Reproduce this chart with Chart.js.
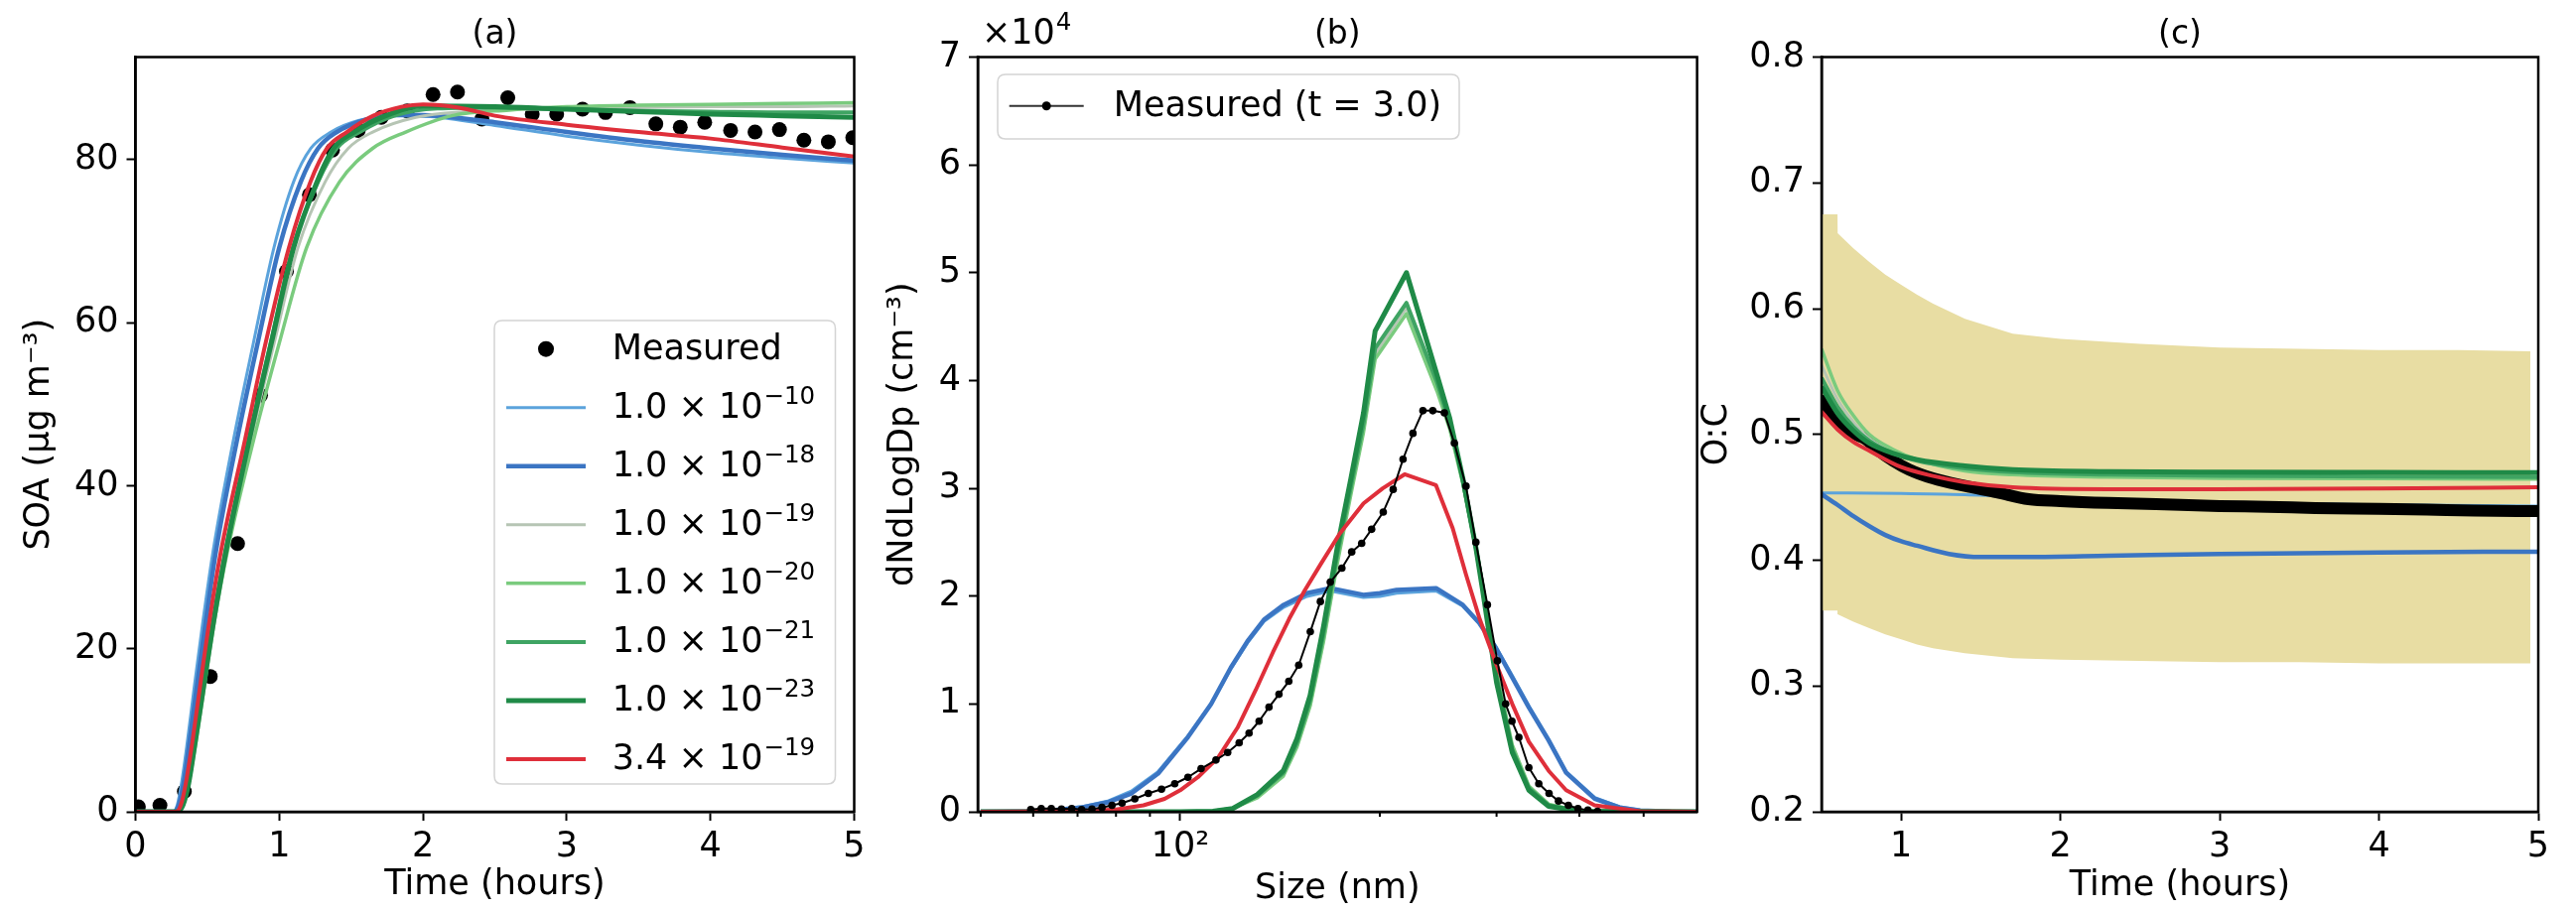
<!DOCTYPE html>
<html><head><meta charset="utf-8">
<script src="https://cdn.jsdelivr.net/npm/chart.js@4.4.1/dist/chart.umd.min.js"></script>
<style>
html,body{margin:0;padding:0;background:#fff;width:2595px;height:918px;overflow:hidden;}
canvas{position:absolute;top:0;}
</style></head><body>
<canvas id="ca" width="880" height="918" style="left:0px"></canvas>
<canvas id="cb" width="840" height="918" style="left:880px"></canvas>
<canvas id="cc" width="905" height="918" style="left:1690px"></canvas>
<script>
const FONT = 'DejaVu Sans';
Chart.defaults.font.family = FONT;
Chart.defaults.color = '#000';

// ---------------- shared series meta ----------------
const seriesLabels = ['1.0 × 10^−10','1.0 × 10^−18','1.0 × 10^−19','1.0 × 10^−20','1.0 × 10^−21','1.0 × 10^−23','3.4 × 10^−19'];
const seriesColors = ['#5ba3dc','#3b75c3','#b6c5b4','#7acb7e','#3fa463','#1f8a47','#df2f3a'];
const seriesWidths = [3, 4.5, 3, 3.5, 4, 5, 4];

// ---------------- panel (a): SOA vs time ----------------
const soaMeasuredT = [0.02,0.17,0.34,0.52,0.71,0.87,1.05,1.21,1.37,1.55,1.71,1.89,2.07,2.24,2.41,2.59,2.76,2.93,3.11,3.27,3.44,3.62,3.79,3.96,4.14,4.31,4.48,4.65,4.82,4.99];
const soaMeasuredV = [0.6,0.8,2.5,16.6,32.9,51.1,66.3,75.7,81.2,83.6,85.2,86.0,88.0,88.3,85.0,87.6,85.6,85.6,86.2,85.8,86.4,84.4,84.0,84.6,83.6,83.4,83.7,82.4,82.2,82.7];
const soa_1e10 = [[0,0],[0.26,0],[0.29,0.8],[0.32,3.5],[0.36,8.5],[0.41,15.5],[0.47,23.5],[0.54,32.0],[0.68,45.5],[0.82,57.5],[0.963,69.2],[1.10,77.3],[1.22,81.4],[1.36,83.4],[1.55,84.8],[1.8,85.4],[2.05,85.3],[2.5,84.2],[3.0,82.9],[3.5,81.8],[4.0,80.9],[4.5,80.2],[5.0,79.6]];
const soa_1e18 = [[0,0],[0.27,0],[0.30,0.8],[0.335,3.5],[0.375,8.5],[0.428,15.5],[0.49,23.5],[0.56,32.0],[0.705,45.5],[0.85,57.5],[1.0,69.2],[1.15,77.3],[1.27,81.4],[1.40,83.4],[1.6,84.9],[1.85,85.5],[2.1,85.4],[2.5,84.6],[3.0,83.4],[3.5,82.3],[4.0,81.4],[4.5,80.6],[5.0,79.9]];
const soa_1e19 = [[0,0],[0.29,0],[0.33,0.8],[0.37,3.5],[0.415,8.5],[0.475,15.5],[0.545,23.5],[0.635,32.0],[0.80,45.5],[0.965,57.5],[1.13,69.2],[1.32,77.3],[1.48,81.4],[1.65,83.4],[1.95,85.2],[2.3,85.9],[3.0,86.3],[3.5,86.4],[4.0,86.5],[4.5,86.5],[5.0,86.6]];
const soa_1e20 = [[0,0],[0.29,0],[0.33,0.8],[0.37,3.5],[0.42,8.5],[0.48,15.5],[0.55,23.5],[0.64,32.0],[0.82,45.5],[1.0,57.5],[1.19,69.2],[1.42,77.3],[1.65,81.4],[1.88,83.4],[2.2,85.4],[2.6,86.1],[3.0,86.5],[3.5,86.7],[4.0,86.8],[4.5,86.9],[5.0,87.0]];
const soa_1e21 = [[0,0],[0.29,0],[0.325,0.8],[0.365,3.5],[0.41,8.5],[0.47,15.5],[0.54,23.5],[0.625,32.0],[0.785,45.5],[0.94,57.5],[1.095,69.2],[1.27,77.3],[1.40,81.4],[1.56,83.4],[1.8,85.4],[2.1,86.3],[2.5,86.4],[3.0,86.2],[3.5,86.0],[4.0,85.9],[4.5,85.8],[5.0,85.8]];
const soa_1e23 = [[0,0],[0.29,0],[0.33,0.8],[0.37,3.5],[0.415,8.5],[0.475,15.5],[0.545,23.5],[0.63,32.0],[0.79,45.5],[0.945,57.5],[1.10,69.2],[1.263,77.3],[1.378,81.4],[1.52,83.4],[1.74,85.4],[2.0,86.6],[2.5,86.5],[3.0,86.2],[3.5,85.9],[4.0,85.6],[4.5,85.4],[5.0,85.2]];
const soa_fit = [[0,0],[0.28,0],[0.315,0.8],[0.35,3.5],[0.395,8.5],[0.45,15.5],[0.515,23.5],[0.595,32.0],[0.76,45.5],[0.905,57.5],[1.067,69.2],[1.217,77.3],[1.332,81.4],[1.47,83.4],[1.654,85.4],[1.85,86.5],[2.0,86.8],[2.25,86.4],[2.5,85.4],[3.0,84.3],[3.5,83.4],[4.0,82.6],[4.5,81.5],[5.0,80.4]];
const aXTicks = [0,1,2,3,4,5];
const aXTickLabels = ['0','1','2','3','4','5'];
const aYTicks = [0,20,40,60,80];
const aYTickLabels = ['0','20','40','60','80'];

// ---------------- panel (b): size distribution at t = 3.0 h (x10^4 cm^-3) ----------------
const psdMeasured = [[59.5,0.02],[61.7,0.03],[63.9,0.03],[66.2,0.025],[68.6,0.03],[71.0,0.02],[73.6,0.025],[76.2,0.04],[78.9,0.06],[81.7,0.08],[85.4,0.12],[89.5,0.17],[93.7,0.21],[98.1,0.26],[102.7,0.32],[107.5,0.40],[113.2,0.48],[117.9,0.55],[122.7,0.64],[127.0,0.73],[131.5,0.84],[136.1,0.97],[140.9,1.09],[145.8,1.21],[150.9,1.36],[157.1,1.67],[162.7,1.95],[168.4,2.13],[175.3,2.26],[181.4,2.41],[187.8,2.49],[194.4,2.62],[202.4,2.78],[209.5,2.99],[216.8,3.27],[224.4,3.51],[232.3,3.72],[240.4,3.72],[250.3,3.70],[259.1,3.42],[269.8,3.02],[279.2,2.50],[290.6,1.92],[300.8,1.40],[309.6,1.00],[316.5,0.84],[324.2,0.69],[335.6,0.41],[347.4,0.26],[360,0.17],[372,0.10],[385,0.06],[398,0.03],[412,0.015],[426,0.005]];
const psd_1e10 = [[50,0],[62,0.006],[71,0.045],[78,0.10],[84.4,0.19],[92.6,0.37],[102.7,0.70],[111.3,1.0],[119.2,1.33],[126.3,1.57],[133.8,1.77],[143.3,1.90],[155.3,2.0],[168.4,2.05],[188.9,1.99],[200,2.0],[211.9,2.03],[243.2,2.05],[266.7,1.91],[282.5,1.75],[299.2,1.53],[316.8,1.26],[335.6,0.98],[359.5,0.67],[382,0.37],[421.8,0.13],[460,0.045],[494,0.013],[550,0.002],[602,0]];
const psd_1e18 = [[50,0],[62,0.005],[71,0.04],[78,0.09],[84.4,0.17],[92.6,0.354],[102.7,0.692],[111.3,0.999],[119.2,1.337],[126.3,1.582],[133.8,1.782],[143.3,1.920],[155.3,2.028],[168.4,2.074],[188.9,2.012],[200,2.028],[211.9,2.058],[243.2,2.074],[266.7,1.920],[282.5,1.751],[299.2,1.521],[316.8,1.245],[335.6,0.968],[359.5,0.661],[382,0.362],[421.8,0.12],[460,0.04],[494,0.012],[550,0.002],[602,0]];
const psd_1e19 = [[50,0],[100,0],[112,0.005],[120,0.03],[130.7,0.14],[143,0.35],[150,0.62],[157,1.0],[164.5,1.6],[172.5,2.33],[181,2.98],[189,3.55],[196.8,4.25],[219.4,4.68],[244,3.94],[255,3.57],[266.7,3.06],[279.2,2.45],[285.6,2.11],[300,1.28],[316.8,0.6],[335.6,0.23],[359.5,0.065],[400,0.006],[602,0]];
const psd_1e20 = [[50,0],[100,0],[112,0.005],[120,0.03],[130.7,0.13],[143,0.33],[150,0.6],[157,0.98],[164.5,1.58],[172.5,2.3],[181,2.95],[189,3.52],[196.8,4.2],[219.4,4.62],[244,3.9],[255,3.55],[266.7,3.05],[279.2,2.45],[285.6,2.12],[300,1.3],[316.8,0.62],[335.6,0.24],[359.5,0.07],[400,0.007],[602,0]];
const psd_1e21 = [[50,0],[100,0],[112,0.005],[120,0.03],[130.7,0.15],[143,0.36],[150,0.64],[157,1.03],[164.5,1.65],[172.5,2.38],[181,3.02],[189,3.6],[196.8,4.30],[219.4,4.72],[244,3.98],[255,3.6],[266.7,3.08],[279.2,2.45],[285.6,2.1],[300,1.25],[316.8,0.58],[335.6,0.22],[359.5,0.06],[400,0.006],[602,0]];
const psd_1e23 = [[50,0],[100,0],[112,0.005],[120,0.03],[130.7,0.16],[143,0.38],[150,0.68],[157,1.08],[164.5,1.72],[172.5,2.45],[181,3.1],[189,3.7],[196.8,4.46],[219.4,5.0],[244,4.05],[255,3.65],[266.7,3.1],[279.2,2.45],[285.6,2.07],[300,1.2],[316.8,0.55],[335.6,0.2],[359.5,0.05],[400,0.005],[602,0]];
const psd_fit = [[50,0],[70,0.005],[80,0.02],[88,0.06],[94.7,0.12],[100,0.2],[106.3,0.32],[114,0.5],[122,0.78],[130,1.13],[138,1.48],[146,1.79],[154,2.05],[163,2.3],[174,2.58],[189,2.86],[202,3.0],[218,3.13],[243,3.03],[257.6,2.63],[269.8,2.2],[282.5,1.8],[299.2,1.38],[316.8,1.0],[335.6,0.65],[359.5,0.38],[382,0.2],[421.8,0.06],[494,0.005],[602,0]];
const bXTicks = [50,60,70,80,90,100,200,300,400,500,600];
const bXMajor = [100];
const bYTicks = [0,1,2,3,4,5,6,7];
const bYTickLabels = ['0','1','2','3','4','5','6','7'];

// ---------------- panel (c): O:C vs time ----------------
const ocBandT     = [0.5,0.6,0.601,0.7,0.8,0.9,1.0,1.1,1.2,1.4,1.7,2.0,2.5,3.0,3.5,4.0,4.5,4.95];
const ocBandUpper = [0.675,0.675,0.660,0.648,0.637,0.627,0.619,0.611,0.604,0.592,0.580,0.576,0.572,0.569,0.568,0.567,0.567,0.566];
const ocBandLower = [0.360,0.360,0.357,0.351,0.346,0.341,0.337,0.333,0.330,0.326,0.322,0.321,0.320,0.319,0.319,0.318,0.318,0.318];
const ocMeasured = [[0.5,0.527],[0.55,0.52],[0.6,0.512],[0.7,0.501],[0.78,0.496],[0.85,0.488],[0.95,0.479],[1.05,0.472],[1.2,0.465],[1.4,0.459],[1.6,0.454],[1.8,0.4485],[2.0,0.447],[2.3,0.4455],[2.6,0.4445],[3.0,0.443],[3.3,0.4425],[3.6,0.4415],[4.0,0.4408],[4.3,0.4402],[4.6,0.4395],[5.0,0.439]];
const oc_1e10 = [[0.5,0.4535],[1.0,0.453],[1.4,0.452],[2.0,0.449],[3.0,0.446],[4.0,0.444],[5.0,0.443]];
const oc_1e18 = [[0.5,0.4525],[0.6,0.444],[0.7,0.435],[0.8,0.427],[0.9,0.42],[1.0,0.415],[1.1,0.4115],[1.3,0.405],[1.5,0.4025],[1.8,0.4025],[2.3,0.4035],[3.0,0.405],[4.0,0.4062],[5.0,0.4068]];
const oc_1e19 = [[0.5,0.555],[0.6,0.528],[0.7,0.51],[0.8,0.497],[0.95,0.486],[1.1,0.479],[1.4,0.472],[1.7,0.469],[2.3,0.467],[3.0,0.466],[4.0,0.4655],[5.0,0.465]];
const oc_1e20 = [[0.5,0.568],[0.6,0.535],[0.7,0.515],[0.8,0.500],[0.95,0.488],[1.1,0.480],[1.4,0.471],[1.7,0.468],[2.3,0.466],[3.0,0.465],[4.0,0.4648],[5.0,0.4645]];
const oc_1e21 = [[0.5,0.545],[0.6,0.522],[0.7,0.506],[0.8,0.495],[0.95,0.485],[1.1,0.479],[1.4,0.473],[1.7,0.470],[2.3,0.468],[3.0,0.467],[4.0,0.4665],[5.0,0.466]];
const oc_1e23 = [[0.5,0.538],[0.6,0.517],[0.7,0.503],[0.8,0.493],[0.95,0.485],[1.1,0.480],[1.4,0.475],[1.7,0.472],[2.3,0.4705],[3.0,0.470],[4.0,0.4698],[5.0,0.4696]];
const oc_fit  = [[0.5,0.518],[0.6,0.504],[0.7,0.494],[0.8,0.487],[1.0,0.474],[1.2,0.467],[1.4,0.462],[1.7,0.458],[2.3,0.4565],[3.0,0.4565],[4.0,0.457],[5.0,0.458]];
const cXTicks = [1,2,3,4,5];
const cXTickLabels = ['1','2','3','4','5'];
const cYTicks = [0.2,0.3,0.4,0.5,0.6,0.7,0.8];
const cYTickLabels = ['0.2','0.3','0.4','0.5','0.6','0.7','0.8'];

// ---------------- helpers ----------------
const pts = a => a.map(p => ({x:p[0], y:p[1]}));
const zip = (xs, ys) => xs.map((x,i) => ({x:x, y:ys[i]}));

function drawSupText(ctx, text, x, y, size, supSize, raise){
  const parts = text.split('^');
  ctx.font = size + 'px "' + FONT + '"';
  ctx.textAlign = 'left'; ctx.textBaseline = 'alphabetic';
  ctx.fillText(parts[0], x, y);
  if (parts.length > 1){
    const w = ctx.measureText(parts[0]).width;
    ctx.font = supSize + 'px "' + FONT + '"';
    ctx.fillText(parts[1], x + w + 1, y - raise);
  }
}
function roundRect(ctx, x, y, w, h, r){
  ctx.beginPath();
  ctx.moveTo(x+r,y); ctx.lineTo(x+w-r,y); ctx.quadraticCurveTo(x+w,y,x+w,y+r);
  ctx.lineTo(x+w,y+h-r); ctx.quadraticCurveTo(x+w,y+h,x+w-r,y+h);
  ctx.lineTo(x+r,y+h); ctx.quadraticCurveTo(x,y+h,x,y+h-r);
  ctx.lineTo(x,y+r); ctx.quadraticCurveTo(x,y,x+r,y); ctx.closePath();
}
const framePlugin = {id:'frame', afterDatasetsDraw(chart){
  const a = chart.chartArea, c = chart.ctx;
  c.save(); c.strokeStyle = '#000'; c.lineWidth = 2.5;
  c.strokeRect(a.left, a.top, a.right - a.left, a.bottom - a.top); c.restore();
}};
function titlePlugin(txt){ return {id:'ptitle', afterDraw(chart){
  const a = chart.chartArea, c = chart.ctx;
  c.save(); c.font = '33px "' + FONT + '"'; c.fillStyle = '#000';
  c.textAlign = 'center'; c.textBaseline = 'middle';
  c.fillText(txt, (a.left + a.right)/2, 35); c.restore();
}};}
function legendPlugin(cfg){ return {id:'mplLegend', afterDatasetsDraw(chart){
  const c = chart.ctx; c.save();
  roundRect(c, cfg.box[0], cfg.box[1], cfg.box[2], cfg.box[3], 8);
  c.fillStyle = 'rgba(255,255,255,0.8)'; c.fill();
  c.lineWidth = 1.5; c.strokeStyle = '#d4d4d4'; c.stroke();
  cfg.rows.forEach((r, i) => {
    const ds = chart.data.datasets[r.ds];
    const y = cfg.y0 + i * cfg.dy;
    if (r.line){
      c.beginPath(); c.moveTo(cfg.hx0, y); c.lineTo(cfg.hx1, y);
      c.strokeStyle = r.lineColor || ds.borderColor; c.lineWidth = r.line; c.stroke();
    }
    if (r.dot){
      c.beginPath(); c.arc((cfg.hx0 + cfg.hx1)/2, y, r.dot, 0, Math.PI*2);
      c.fillStyle = '#000'; c.fill();
    }
    c.fillStyle = '#000';
    drawSupText(c, ds.label, cfg.tx, y + 10, 35, 24.5, 14);
  });
  c.restore();
}};}

function xAxis(type, min, max, ticks, labels, title, padBottom, extra){
  return Object.assign({
    type: type, min: min, max: max, position: 'bottom',
    afterBuildTicks: s => { s.ticks = ticks.map(v => ({value: v})); },
    afterFit: s => { s.height = 100; },
    ticks: {font: {family: FONT, size: 35}, color: '#000', padding: 6, maxRotation: 0, minRotation: 0, autoSkip: false,
            callback: (v, i) => labels[i]},
    grid: {display: true, drawOnChartArea: false, drawTicks: true, tickLength: 9, tickWidth: 2, tickColor: '#000'},
    border: {display: true, color: '#000', width: 2.5},
    title: {display: true, text: title, color: '#000', font: {family: FONT, size: 35}, padding: {top: 0, bottom: padBottom}}
  }, extra || {});
}
function yAxis(min, max, ticks, labels, title, width, padTop){
  return {
    type: 'linear', min: min, max: max, position: 'left',
    afterBuildTicks: s => { s.ticks = ticks.map(v => ({value: v})); },
    afterFit: s => { s.width = width; },
    ticks: {font: {family: FONT, size: 35}, color: '#000', padding: 8, autoSkip: false, callback: (v, i) => labels[i]},
    grid: {display: true, drawOnChartArea: false, drawTicks: true, tickLength: 9, tickWidth: 2, tickColor: '#000'},
    border: {display: true, color: '#000', width: 2.5},
    title: {display: true, text: title, color: '#000', font: {family: FONT, size: 35}, padding: {top: padTop, bottom: 0}}
  };
}
function baseOptions(padding, x, y){
  return {
    responsive: false, animation: false, devicePixelRatio: 1,
    layout: {padding: padding},
    plugins: {legend: {display: false}, tooltip: {enabled: false}, title: {display: false}},
    elements: {point: {radius: 0}, line: {borderJoinStyle: 'round'}},
    scales: {x: x, y: y}
  };
}
function modelLine(label, data, color, width, order, cubic){
  return {label: label, data: data, borderColor: color, backgroundColor: color, borderWidth: width,
          pointRadius: 0, fill: false, order: order, clip: 0,
          cubicInterpolationMode: cubic ? 'monotone' : 'default', tension: 0};
}

// ---------------- chart (a) ----------------
const soaModels = [soa_1e10, soa_1e18, soa_1e19, soa_1e20, soa_1e21, soa_1e23, soa_fit];
const aDatasets = [{label: 'Measured', data: zip(soaMeasuredT, soaMeasuredV), showLine: false,
  pointRadius: 7.5, pointBackgroundColor: '#000', pointBorderWidth: 0, borderColor: '#000', order: 100, clip: 0}]
  .concat(soaModels.map((d, i) => modelLine(seriesLabels[i], pts(d), seriesColors[i], seriesWidths[i], 90 - i*10, true)));
new Chart(document.getElementById('ca'), {
  type: 'line',
  data: {datasets: aDatasets},
  options: baseOptions({left: 0, right: 19.5, top: 57.5, bottom: 0},
    xAxis('linear', 0, 5, aXTicks, aXTickLabels, 'Time (hours)', 5),
    yAxis(0, 92.6, aYTicks, aYTickLabels, 'SOA (μg m⁻³)', 136.5, 19)),
  plugins: [framePlugin, titlePlugin('(a)'), legendPlugin({
    box: [498, 323, 343.5, 467], y0: 351.7, dy: 59.04, hx0: 510, hx1: 590, tx: 616.7,
    rows: [{ds: 0, dot: 8}].concat(seriesLabels.map((l, i) => ({ds: i + 1, line: seriesWidths[i]})))
  })]
});

// ---------------- chart (b) ----------------
const psdModels = [psd_1e10, psd_1e18, psd_1e19, psd_1e20, psd_1e21, psd_1e23, psd_fit];
const bDatasets = psdModels.map((d, i) => modelLine(seriesLabels[i], pts(d), seriesColors[i], seriesWidths[i] === 3 ? 3.5 : seriesWidths[i], 90 - i*10, false))
  .concat([{label: 'Measured (t = 3.0)', data: pts(psdMeasured), borderColor: '#000', borderWidth: 2,
    pointRadius: 3.8, pointBackgroundColor: '#000', pointBorderWidth: 0, tension: 0, order: 5, clip: 0}]);
const bExtras = {id: 'bExtras', afterDraw(chart){
  const c = chart.ctx, xs = chart.scales.x, a = chart.chartArea;
  c.save(); c.strokeStyle = '#000'; c.lineWidth = 2;
  bXTicks.forEach(v => { if (bXMajor.indexOf(v) < 0){
    const px = xs.getPixelForValue(v);
    if (px > a.left + 2 && px < a.right - 2){ c.beginPath(); c.moveTo(px, a.bottom); c.lineTo(px, a.bottom + 5); c.stroke(); }
  }});
  c.fillStyle = '#000';
  drawSupText(c, '×10^4', a.left + 4, 44, 35, 24.5, 14);
  c.restore();
}};
new Chart(document.getElementById('cb'), {
  type: 'line',
  data: {datasets: bDatasets},
  options: baseOptions({left: 0, right: 10.4, top: 57.5, bottom: 0},
    xAxis('logarithmic', 49.5, 602, bXTicks, bXTicks.map(v => v === 100 ? '10²' : ''), 'Size (nm)', 1, {
      grid: {display: true, drawOnChartArea: false, drawTicks: true, tickLength: 9, tickWidth: 2,
             tickColor: ctx => (ctx.tick && bXMajor.indexOf(ctx.tick.value) >= 0) ? '#000' : 'rgba(0,0,0,0)'}
    }),
    yAxis(0, 7, bYTicks, bYTickLabels, 'dNdLogDp (cm⁻³)', 105, 9)),
  plugins: [framePlugin, titlePlugin('(b)'), bExtras, legendPlugin({
    box: [125, 75, 465, 65], y0: 106.7, dy: 0, hx0: 136.7, hx1: 211.7, tx: 241.7,
    rows: [{ds: 7, line: 2, lineColor: '#333', dot: 4.5}]
  })]
});

// ---------------- chart (c) ----------------
const ocModels = [oc_1e10, oc_1e18, oc_1e19, oc_1e20, oc_1e21, oc_1e23, oc_fit];
const ocOrders = [95, 90, 70, 60, 50, 40, 30];
const cDatasets = [
  {label: 'band lower', data: zip(ocBandT, ocBandLower), borderWidth: 0, pointRadius: 0, fill: false, order: 200, clip: 0},
  {label: 'band upper', data: zip(ocBandT, ocBandUpper), borderWidth: 0, pointRadius: 0, fill: '-1',
   backgroundColor: 'rgb(232,221,163)', order: 200, clip: 0},
  {label: 'Measured', data: pts(ocMeasured), borderColor: '#000', borderWidth: 12, pointRadius: 0,
   borderCapStyle: 'round', cubicInterpolationMode: 'monotone', fill: false, order: 80, clip: 0}
].concat(ocModels.map((d, i) => modelLine(seriesLabels[i], pts(d), seriesColors[i], seriesWidths[i], ocOrders[i], true)));
new Chart(document.getElementById('cc'), {
  type: 'line',
  data: {datasets: cDatasets},
  options: baseOptions({left: 0, right: 38, top: 57.5, bottom: 0},
    xAxis('linear', 0.5, 5, cXTicks, cXTickLabels, 'Time (hours)', 4),
    yAxis(0.2, 0.8, cYTicks, cYTickLabels, 'O:C', 145, 19)),
  plugins: [framePlugin, titlePlugin('(c)')]
});
</script>
</body></html>
